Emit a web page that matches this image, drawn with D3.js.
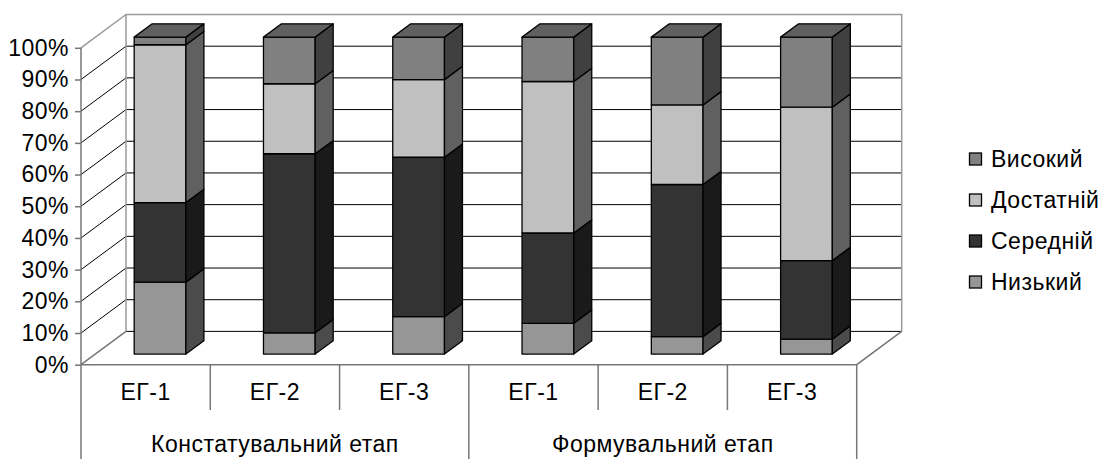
<!DOCTYPE html>
<html>
<head>
<meta charset="utf-8">
<script src="https://cdn.jsdelivr.net/npm/d3@7"></script>
<style>
  html, body { margin: 0; padding: 0; background: #fff; }
  svg { display: block; }
  text { font-family: "Liberation Sans", Arial, sans-serif; fill: #000; letter-spacing: 0.5px; }
</style>
</head>
<body>
<svg id="chart" width="1103" height="459"></svg>
<script>
// Groups along the category axis
const groups = ["ЕГ-1", "ЕГ-2", "ЕГ-3", "ЕГ-1", "ЕГ-2", "ЕГ-3"];
const stages = ["Констатувальний етап", "Формувальний етап"];
const yTicks = [0, 0.1, 0.2, 0.3, 0.4, 0.5, 0.6, 0.7, 0.8, 0.9, 1.0];

// Level shares, % of students in each group
const seriesNames = ["Низький", "Середній", "Достатній", "Високий"];
const nyzkyi    = [22.7,  6.7, 11.8,  9.7,  5.5,  4.7];
const serednii  = [25.1, 56.5, 50.3, 28.5, 48.0, 24.8];
const dostatnii = [49.8, 22.1, 24.5, 47.8, 25.1, 48.4];
const vysokyi   = [ 2.4, 14.7, 13.4, 14.0, 21.4, 22.1];

// Face colours per series: front, side, top
const frontCol = ["#969696", "#333333", "#c0c0c0", "#808080"];
const sideCol  = ["#4b4b4b", "#1a1a1a", "#606060", "#404040"];
const topCol   = ["#707070", "#262626", "#909090", "#606060"];

const FS = 23;

const rows = groups.map((g, i) => ({
  i,
  "Низький": nyzkyi[i],
  "Середній": serednii[i],
  "Достатній": dostatnii[i],
  "Високий": vysokyi[i]
}));
const stacked = d3.stack().keys(seriesNames).offset(d3.stackOffsetExpand)(rows);

const svg = d3.select("#chart");

// Front plane of the plot box
const x0 = 81, x1 = 856.7;
const x = d3.scaleBand().domain(d3.range(groups.length)).range([x0, x1]);
const y = d3.scaleLinear().domain([0, 1]).range([364.7, 47.8]);

// Oblique depth projection
const DX = 45, DY = -33.3;
const P = (px, py, d) => [px + DX * d, py + DY * d];
const poly = pts => "M" + pts.map(p => p.join(",")).join("L") + "Z";

const grid = svg.append("g");
const border = "#9a9a9a";

// Back wall gridlines
yTicks.forEach(t => {
  const [ax, ay] = P(x0, y(t), 1);
  const [bx] = P(x1, y(t), 1);
  if (t < 1) {
    grid.append("line").attr("x1", ax).attr("y1", ay).attr("x2", bx).attr("y2", ay)
      .attr("stroke", "#000").attr("stroke-width", 1);
  }
  // side wall diagonals
  grid.append("line").attr("x1", x0).attr("y1", y(t)).attr("x2", ax).attr("y2", ay)
    .attr("stroke", t === 1 ? border : (t === 0 ? "#777" : "#000"))
    .attr("stroke-width", t === 1 || t === 0 ? 1.5 : 1);
});

// Back wall outline
const bTopL = P(x0, y(1), 1), bTopR = P(x1, y(1), 1);
const bBotL = P(x0, y(0), 1), bBotR = P(x1, y(0), 1);
grid.append("path")
  .attr("d", `M${bBotL}L${bTopL}L${bTopR}L${bBotR}`)
  .attr("fill", "none").attr("stroke", border).attr("stroke-width", 1.5);

// Floor front edge and right edge
grid.append("path")
  .attr("d", `M${x0},${y(0)}L${x1},${y(0)}L${bBotR}`)
  .attr("fill", "none").attr("stroke", "#777").attr("stroke-width", 1.5);

// Value axis
grid.append("line").attr("x1", x0).attr("y1", y(1)).attr("x2", x0).attr("y2", y(0))
  .attr("stroke", "#777").attr("stroke-width", 1.5);
const yAxis = d3.axisLeft(y).tickValues(yTicks).tickFormat(d3.format(".0%"))
  .tickSizeInner(6).tickSizeOuter(0).tickPadding(6);
const yg = svg.append("g").attr("transform", `translate(${x0},0)`).call(yAxis);
yg.select(".domain").remove();
yg.selectAll(".tick line").attr("stroke", "#777").attr("stroke-width", 1.5);
yg.selectAll(".tick text").attr("font-size", FS).attr("font-family", '"Liberation Sans", Arial, sans-serif')
  .attr("fill", "#000");

// Category axis: group labels and dividers
const cat = svg.append("g");
groups.forEach((g, i) => {
  cat.append("text").attr("x", x(i) + x.bandwidth() / 2).attr("y", 400)
    .attr("text-anchor", "middle").attr("font-size", FS).text(g);
});
d3.range(groups.length + 1).forEach(i => {
  const xx = i < groups.length ? x(i) : x1;
  const full = i % 3 === 0;
  cat.append("line").attr("x1", xx).attr("x2", xx)
    .attr("y1", y(0)).attr("y2", full ? 459 : 410)
    .attr("stroke", "#777").attr("stroke-width", 1.5);
});
stages.forEach((s, k) => {
  const cx = (x(k * 3) + (k === 1 ? x1 : x(3))) / 2;
  cat.append("text").attr("x", cx).attr("y", 452)
    .attr("text-anchor", "middle").attr("font-size", FS).text(s);
});

// 3D stacked columns
const bw = x.bandwidth() * 0.4;
const d0 = 0.32, d1 = 0.72;
const bars = svg.append("g").attr("stroke", "#000").attr("stroke-width", 1.3)
  .attr("stroke-linejoin", "round");
groups.forEach((g, i) => {
  const left = x(i) + (x.bandwidth() - bw) / 2;
  const right = left + bw;
  stacked.forEach((layer, s) => {
    const [v0, v1] = layer[i];
    if (v1 - v0 <= 0) return;
    const yb = y(v0), yt = y(v1);
    // front face
    bars.append("path").attr("fill", frontCol[s])
      .attr("d", poly([P(left, yb, d0), P(right, yb, d0), P(right, yt, d0), P(left, yt, d0)]));
    // side face
    bars.append("path").attr("fill", sideCol[s])
      .attr("d", poly([P(right, yb, d0), P(right, yb, d1), P(right, yt, d1), P(right, yt, d0)]));
    // top face only on the uppermost segment
    if (s === stacked.length - 1) {
      bars.append("path").attr("fill", topCol[s])
        .attr("d", poly([P(left, yt, d0), P(right, yt, d0), P(right, yt, d1), P(left, yt, d1)]));
    }
  });
});

// Legend, highest level first
const legend = svg.append("g");
const order = [3, 2, 1, 0];
order.forEach((s, k) => {
  const cy = 159 + k * 41;
  legend.append("rect").attr("x", 969.5).attr("y", cy - 6).attr("width", 12).attr("height", 12)
    .attr("fill", frontCol[s]).attr("stroke", "#000").attr("stroke-width", 1.3);
  legend.append("text").attr("x", 991).attr("y", cy + 8).attr("font-size", FS).text(seriesNames[s]);
});
</script>
</body>
</html>
